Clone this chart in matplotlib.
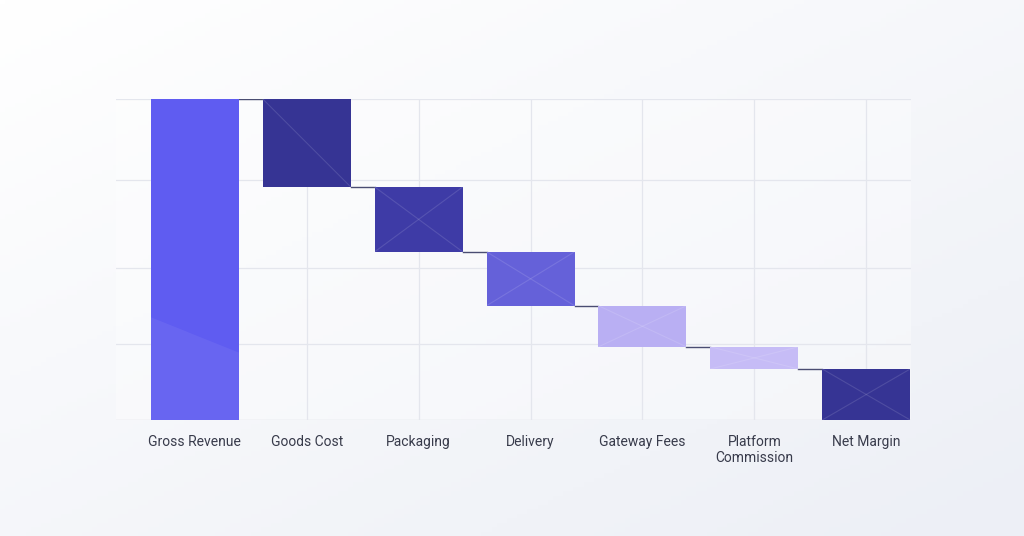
import numpy as np
import matplotlib.pyplot as plt

# waterfall data (share of gross revenue, %)
categories = ["Gross Revenue", "Goods Cost", "Packaging", "Delivery",
              "Gateway Fees", "Platform\nCommission", "Net Margin"]
revenue = 100.0
costs = [27.4, 20.2, 16.8, 12.8, 6.9]
grid_levels = [0, 23.7, 47.4, 74.8, 100]

colors = ["#5f5cf1", "#363494", "#3e3ba6", "#6561d9",
          "#b9aff3", "#c6bcf6", "#363494"]

net = revenue - sum(costs)
tops = [revenue]
bottoms = [0]
level = revenue
for c in costs:
    tops.append(level)
    bottoms.append(level - c)
    level -= c
tops.append(net)
bottoms.append(0)
heights = [t - b for t, b in zip(tops, bottoms)]

fig = plt.figure(figsize=(10.24, 5.36), dpi=100)

# soft background gradient
bg = fig.add_axes([0, 0, 1, 1])
xx, yy = np.meshgrid(np.linspace(0, 1, 200), np.linspace(0, 1, 120))
g = np.clip(0.5 * xx + 0.55 * yy, 0, 1)
c0 = np.array([1.0, 1.0, 1.0])
c1 = np.array([0.93, 0.94, 0.965])
img = c0[None, None, :] * (1 - g[..., None]) + c1[None, None, :] * g[..., None]
bg.imshow(img, aspect="auto", extent=[0, 1, 0, 1], origin="upper")
bg.axis("off")

ax = fig.add_axes([116 / 1024, 1 - 420 / 536, (911 - 116) / 1024, (420 - 99) / 536])
ax.set_facecolor((1, 1, 1, 0.35))

x = np.arange(len(categories))
w = 0.786
bars = ax.bar(x, heights, bottom=bottoms, width=w, color=colors, zorder=3)

# faint diagonal facets inside the cost bars
for b in bars[1:]:
    x0, y0 = b.get_x(), b.get_y()
    x1, y1 = x0 + b.get_width(), y0 + b.get_height()
    ax.plot([x0, x1], [y1, y0], color="white", alpha=0.12, lw=0.8, zorder=4)
    if b is not bars[1]:
        ax.plot([x0, x1], [y0, y1], color="white", alpha=0.12, lw=0.8, zorder=4)

# lighter facet at the bottom of the first bar
b0 = bars[0]
xa, xb = b0.get_x(), b0.get_x() + b0.get_width()
ax.fill([xa, xb, xb, xa], [32, 21, 0, 0], color="white", alpha=0.06, zorder=4, lw=0)

# connectors
for i in range(len(categories) - 1):
    lvl = tops[i + 1]
    ax.plot([x[i] + w / 2, x[i + 1] - w / 2], [lvl, lvl],
            color="#4a4d72", lw=1.0, zorder=2)

ax.set_xlim(-0.705, 6.40)
ax.set_ylim(0, 100)
ax.set_yticks(grid_levels)
ax.set_yticklabels([])
ax.set_xticks(x)
ax.set_xticklabels(categories, fontsize=10, color="#383b4b", family="Roboto",
                   linespacing=1.2)
ax.tick_params(length=0, pad=11)
ax.grid(True, color="#e4e6ed", lw=0.9, zorder=0)
for s in ax.spines.values():
    s.set_visible(False)
ax.axhline(0, color="#e2e4eb", lw=0.9, zorder=1)

fig.savefig("out.png", dpi=100)
